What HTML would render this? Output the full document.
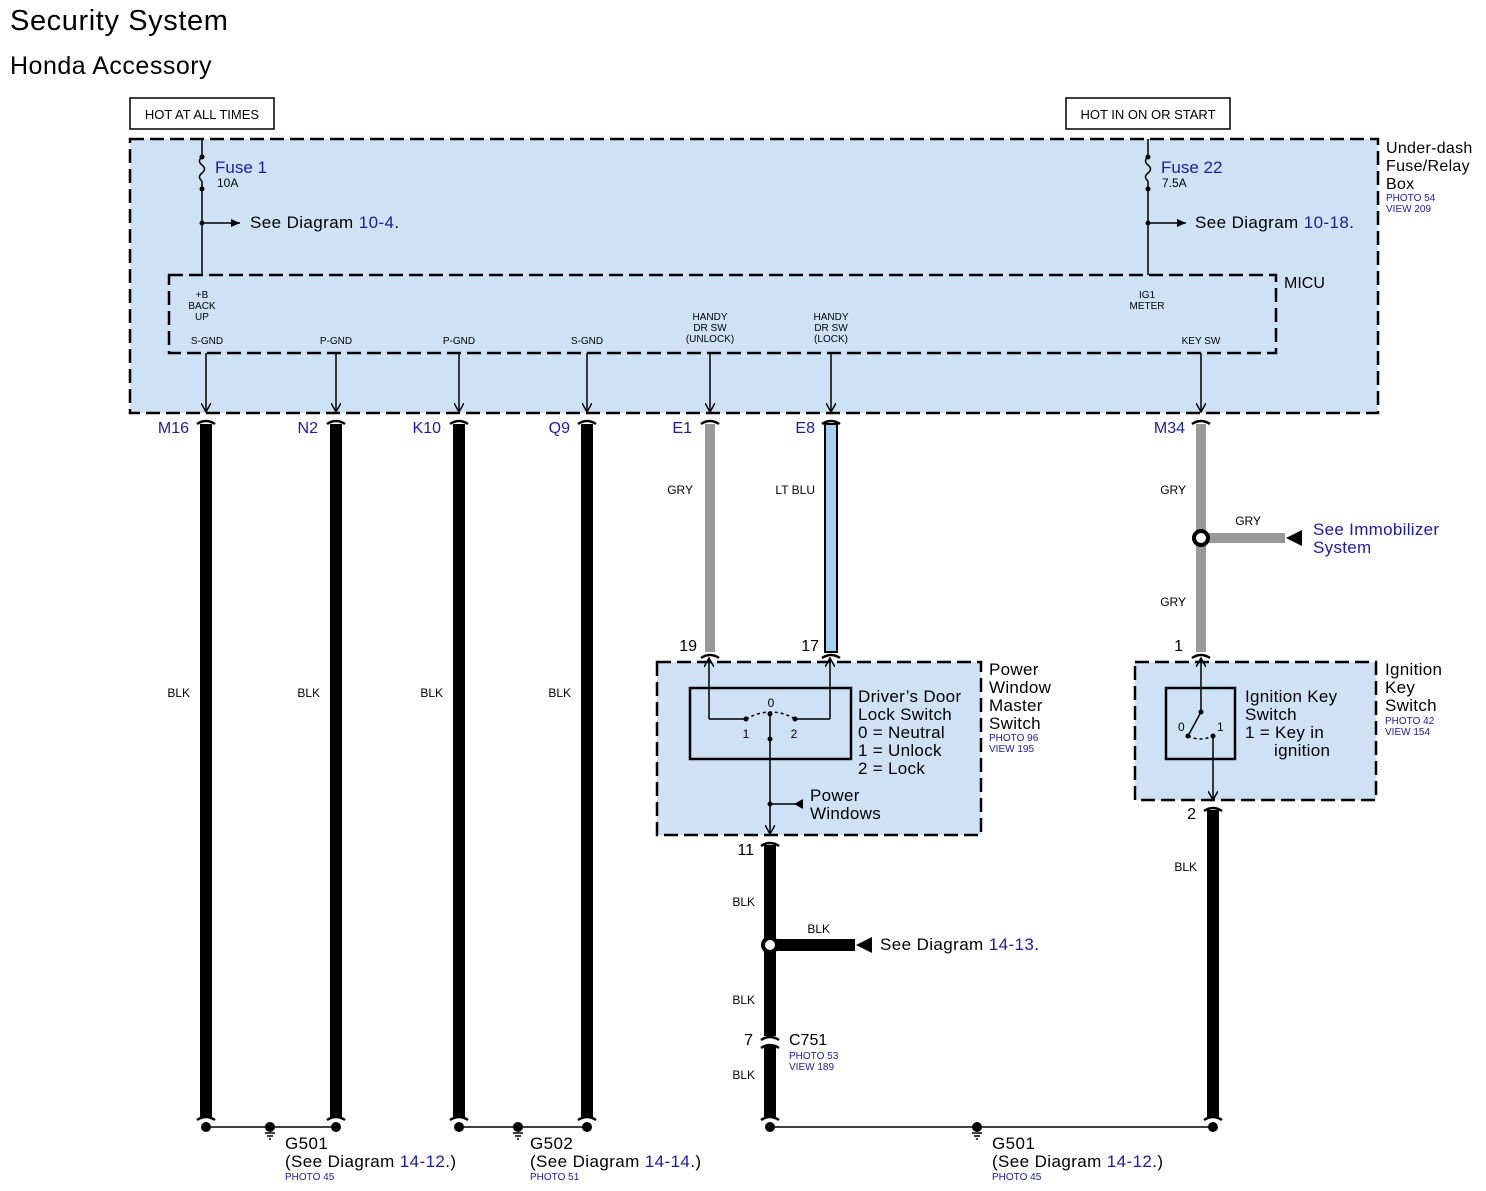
<!DOCTYPE html>
<html><head><meta charset="utf-8"><style>
body{margin:0;background:#fff}
svg{display:block;font-family:"Liberation Sans",Arial,sans-serif}
.b{fill:#1a1aa8}
</style></head><body>
<svg width="1486" height="1191" viewBox="0 0 1486 1191" xmlns="http://www.w3.org/2000/svg">
<defs>
<marker id="ar" markerWidth="10" markerHeight="10" refX="9" refY="5" orient="auto" markerUnits="userSpaceOnUse"><path d="M0,0 L9,5 L0,10" fill="none" stroke="#000" stroke-width="1.5"/></marker>
<marker id="tri" markerWidth="10" markerHeight="10" refX="9" refY="5" orient="auto" markerUnits="userSpaceOnUse"><path d="M0,1 L9,5 L0,9z" fill="#000"/></marker>
</defs>
<text x="10" y="30" font-size="29" letter-spacing="0.6">Security System</text>
<text x="10" y="74" font-size="25" letter-spacing="0.5">Honda Accessory</text>
<rect x="130" y="98" width="144" height="31" fill="#fff" stroke="#000" stroke-width="1.5"/>
<text x="202" y="119" font-size="13" text-anchor="middle">HOT AT ALL TIMES</text>
<rect x="1066" y="98" width="164" height="31" fill="#fff" stroke="#000" stroke-width="1.5"/>
<text x="1148" y="119" font-size="13" text-anchor="middle">HOT IN ON OR START</text>
<rect x="130" y="139" width="1248" height="274" fill="#cfe2f5" stroke="#000" stroke-width="2.5" stroke-dasharray="14,6"/>
<rect x="169" y="275" width="1107" height="78" fill="#cfe2f5" stroke="#000" stroke-width="2.5" stroke-dasharray="14,6"/>
<g font-size="16" letter-spacing="0.3"><text x="1386" y="153">Under-dash</text><text x="1386" y="171">Fuse/Relay</text><text x="1386" y="189">Box</text></g>
<text x="1386" y="201" font-size="10" class="b">PHOTO 54</text><text x="1386" y="212" font-size="10" class="b">VIEW 209</text>
<text x="1284" y="288" font-size="16">MICU</text>
<g stroke="#000" stroke-width="1.5" fill="none">
<line x1="202" y1="139" x2="202" y2="157"/><path d="M202,157 q-5,4 0,8 q5,4 0,8 q-5,4 0,8"/><line x1="202" y1="181" x2="202" y2="275"/>
<line x1="202" y1="223" x2="240" y2="223" marker-end="url(#tri)"/>
<line x1="1148" y1="139" x2="1148" y2="157"/><path d="M1148,157 q-5,4 0,8 q5,4 0,8 q-5,4 0,8"/><line x1="1148" y1="181" x2="1148" y2="275"/>
<line x1="1148" y1="223" x2="1186" y2="223" marker-end="url(#tri)"/>
</g>
<g fill="#000"><circle cx="202" cy="157" r="2.5"/><circle cx="202" cy="189" r="2.5"/><circle cx="202" cy="223" r="2.5"/><circle cx="1148" cy="157" r="2.5"/><circle cx="1148" cy="189" r="2.5"/><circle cx="1148" cy="223" r="2.5"/></g>
<text x="215" y="173" font-size="17" class="b">Fuse 1</text><text x="217" y="187" font-size="12">10A</text>
<text x="250" y="228" font-size="17" letter-spacing="0.4">See Diagram <tspan class="b">10-4</tspan>.</text>
<text x="1161" y="173" font-size="17" class="b">Fuse 22</text><text x="1162" y="187" font-size="12">7.5A</text>
<text x="1195" y="228" font-size="17" letter-spacing="0.4">See Diagram <tspan class="b">10-18</tspan>.</text>
<g font-size="10" text-anchor="middle">
<text x="202" y="298">+B</text><text x="202" y="309">BACK</text><text x="202" y="320">UP</text>
<text x="207" y="344">S-GND</text><text x="336" y="344">P-GND</text><text x="459" y="344">P-GND</text><text x="587" y="344">S-GND</text>
<text x="710" y="320">HANDY</text><text x="710" y="331">DR SW</text><text x="710" y="342">(UNLOCK)</text>
<text x="831" y="320">HANDY</text><text x="831" y="331">DR SW</text><text x="831" y="342">(LOCK)</text>
<text x="1147" y="298">IG1</text><text x="1147" y="309">METER</text><text x="1201" y="344">KEY SW</text>
</g>
<g stroke="#000" stroke-width="1.5" marker-end="url(#ar)">
<line x1="206" y1="353" x2="206" y2="412"/><line x1="336" y1="353" x2="336" y2="412"/><line x1="459" y1="353" x2="459" y2="412"/><line x1="587" y1="353" x2="587" y2="412"/><line x1="710" y1="353" x2="710" y2="412"/><line x1="831" y1="353" x2="831" y2="412"/><line x1="1201" y1="353" x2="1201" y2="412"/>
</g>
<g stroke="#000" stroke-width="12">
<line x1="206" y1="424" x2="206" y2="1118"/><line x1="336" y1="424" x2="336" y2="1118"/><line x1="459" y1="424" x2="459" y2="1118"/><line x1="587" y1="424" x2="587" y2="1118"/>
<line x1="770" y1="845" x2="770" y2="1036"/><line x1="770" y1="1046" x2="770" y2="1118"/><line x1="1213" y1="810" x2="1213" y2="1118"/>
<line x1="770" y1="945" x2="855" y2="945"/>
</g>
<g stroke="#999" stroke-width="10"><line x1="710" y1="424" x2="710" y2="652"/><line x1="1201" y1="424" x2="1201" y2="652"/><line x1="1201" y1="538" x2="1285" y2="538"/></g>
<rect x="825" y="424" width="12" height="228" fill="#a8cff5" stroke="#000" stroke-width="2"/>
<g fill="none" stroke="#000" stroke-width="2.5">
<path d="M197,424 q9,-6 18,0"/><path d="M327,424 q9,-6 18,0"/><path d="M450,424 q9,-6 18,0"/><path d="M578,424 q9,-6 18,0"/><path d="M701,424 q9,-6 18,0"/><path d="M822,424 q9,-6 18,0"/><path d="M1192,424 q9,-6 18,0"/>
<path d="M701,658 q9,-6 18,0"/><path d="M822,658 q9,-6 18,0"/><path d="M1192,658 q9,-6 18,0"/>
<path d="M761,846 q9,-6 18,0"/><path d="M1204,811 q9,-6 18,0"/>
<path d="M761,1040 q9,-6 18,0"/><path d="M761,1048 q9,-6 18,0"/>
<path d="M197,1120 q9,-6 18,0"/><path d="M327,1120 q9,-6 18,0"/><path d="M450,1120 q9,-6 18,0"/><path d="M578,1120 q9,-6 18,0"/><path d="M761,1120 q9,-6 18,0"/><path d="M1204,1120 q9,-6 18,0"/>
</g>
<g font-size="16" class="b" text-anchor="end">
<text x="189" y="433">M16</text><text x="318" y="433">N2</text><text x="441" y="433">K10</text><text x="570" y="433">Q9</text><text x="692" y="433">E1</text><text x="815" y="433">E8</text><text x="1185" y="433">M34</text>
</g>
<g font-size="12" text-anchor="end">
<text x="693" y="494">GRY</text><text x="815" y="494">LT BLU</text><text x="1186" y="494">GRY</text><text x="1186" y="606">GRY</text><text x="1261" y="525">GRY</text>
<text x="190" y="697">BLK</text><text x="320" y="697">BLK</text><text x="443" y="697">BLK</text><text x="571" y="697">BLK</text>
<text x="755" y="906">BLK</text><text x="755" y="1004">BLK</text><text x="755" y="1079">BLK</text><text x="1197" y="871">BLK</text><text x="830" y="933">BLK</text>
</g>
<circle cx="1201" cy="538" r="7" fill="#fff" stroke="#000" stroke-width="4"/>
<path d="M1302,530 L1286,538 L1302,546z" fill="#000"/>
<text x="1313" y="535" font-size="17" class="b" letter-spacing="0.3">See Immobilizer</text><text x="1313" y="553" font-size="17" class="b" letter-spacing="0.3">System</text>
<circle cx="770" cy="945" r="7" fill="#fff" stroke="#000" stroke-width="4"/>
<path d="M872,937 L856,945 L872,953z" fill="#000"/>
<text x="880" y="950" font-size="17" letter-spacing="0.4">See Diagram <tspan class="b">14-13</tspan>.</text>
<g font-size="16"><text x="697" y="651" text-anchor="end">19</text><text x="819" y="651" text-anchor="end">17</text><text x="1183" y="651" text-anchor="end">1</text><text x="754" y="855" text-anchor="end">11</text><text x="1196" y="819" text-anchor="end">2</text><text x="753" y="1045" text-anchor="end">7</text></g>
<rect x="657" y="662" width="324" height="173" fill="#cfe2f5" stroke="#000" stroke-width="2.5" stroke-dasharray="14,6"/>
<rect x="690" y="688" width="161" height="71" fill="none" stroke="#000" stroke-width="2.5"/>
<g stroke="#000" stroke-width="1.5" fill="none">
<line x1="709" y1="719" x2="709" y2="658" marker-end="url(#ar)"/><line x1="709" y1="719" x2="746" y2="719"/>
<line x1="830" y1="719" x2="830" y2="658" marker-end="url(#ar)"/><line x1="830" y1="719" x2="795" y2="719"/>
<path d="M746,719 q25,-14 49,0" stroke-dasharray="3,3"/>
<line x1="770" y1="714" x2="770" y2="834" marker-end="url(#ar)"/>
<line x1="770" y1="804" x2="796" y2="804"/>
</g>
<path d="M803,799 L794,804 L803,809z" fill="#000"/>
<g fill="#000"><circle cx="746" cy="719" r="2.5"/><circle cx="795" cy="719" r="2.5"/><circle cx="770" cy="714" r="2.5"/><circle cx="770" cy="739" r="2.5"/><circle cx="770" cy="804" r="2.5"/></g>
<g font-size="12" text-anchor="middle"><text x="771" y="707">0</text><text x="746" y="738">1</text><text x="794" y="738">2</text></g>
<g font-size="17" letter-spacing="0.3"><text x="858" y="702">Driver’s Door</text><text x="858" y="720">Lock Switch</text><text x="858" y="738">0 = Neutral</text><text x="858" y="756">1 = Unlock</text><text x="858" y="774">2 = Lock</text>
<text x="810" y="801">Power</text><text x="810" y="819">Windows</text>
<text x="989" y="675">Power</text><text x="989" y="693">Window</text><text x="989" y="711">Master</text><text x="989" y="729">Switch</text></g>
<text x="989" y="741" font-size="10" class="b">PHOTO 96</text><text x="989" y="752" font-size="10" class="b">VIEW 195</text>
<rect x="1135" y="662" width="241" height="138" fill="#cfe2f5" stroke="#000" stroke-width="2.5" stroke-dasharray="14,6"/>
<rect x="1166" y="688" width="69" height="71" fill="none" stroke="#000" stroke-width="2.5"/>
<g stroke="#000" stroke-width="1.5" fill="none">
<line x1="1201" y1="712" x2="1201" y2="658" marker-end="url(#ar)"/><line x1="1201" y1="712" x2="1188" y2="736"/>
<path d="M1188,736 q12,6 25,0" stroke-dasharray="3,3"/>
<line x1="1213" y1="736" x2="1213" y2="800" marker-end="url(#ar)"/>
</g>
<g fill="#000"><circle cx="1201" cy="712" r="2.5"/><circle cx="1188" cy="736" r="2.5"/><circle cx="1213" cy="736" r="2.5"/></g>
<g font-size="12"><text x="1178" y="731">0</text><text x="1217" y="731">1</text></g>
<g font-size="17" letter-spacing="0.3"><text x="1245" y="702">Ignition Key</text><text x="1245" y="720">Switch</text><text x="1245" y="738">1 = Key in</text><text x="1274" y="756">ignition</text>
<text x="1385" y="675">Ignition</text><text x="1385" y="693">Key</text><text x="1385" y="711">Switch</text></g>
<text x="1385" y="724" font-size="10" class="b">PHOTO 42</text><text x="1385" y="735" font-size="10" class="b">VIEW 154</text>
<text x="789" y="1045" font-size="16">C751</text>
<text x="789" y="1059" font-size="10" class="b">PHOTO 53</text><text x="789" y="1070" font-size="10" class="b">VIEW 189</text>
<g stroke="#000" stroke-width="1.5"><line x1="206" y1="1127" x2="336" y2="1127"/><line x1="459" y1="1127" x2="587" y2="1127"/><line x1="770" y1="1127" x2="1213" y2="1127"/>
<line x1="265" y1="1133" x2="275" y2="1133"/><line x1="267" y1="1136" x2="273" y2="1136"/><line x1="269" y1="1139" x2="271" y2="1139"/>
<line x1="513" y1="1133" x2="523" y2="1133"/><line x1="515" y1="1136" x2="521" y2="1136"/><line x1="517" y1="1139" x2="519" y2="1139"/>
<line x1="972" y1="1133" x2="982" y2="1133"/><line x1="974" y1="1136" x2="980" y2="1136"/><line x1="976" y1="1139" x2="978" y2="1139"/></g>
<g fill="#000"><circle cx="206" cy="1127" r="5"/><circle cx="336" cy="1127" r="5"/><circle cx="270" cy="1127" r="5"/><circle cx="459" cy="1127" r="5"/><circle cx="587" cy="1127" r="5"/><circle cx="518" cy="1127" r="5"/><circle cx="770" cy="1127" r="5"/><circle cx="1213" cy="1127" r="5"/><circle cx="977" cy="1127" r="5"/></g>
<g font-size="17" letter-spacing="0.4">
<text x="285" y="1149">G501</text><text x="285" y="1167">(See Diagram <tspan class="b">14-12</tspan>.)</text>
<text x="530" y="1149">G502</text><text x="530" y="1167">(See Diagram <tspan class="b">14-14</tspan>.)</text>
<text x="992" y="1149">G501</text><text x="992" y="1167">(See Diagram <tspan class="b">14-12</tspan>.)</text>
</g>
<g font-size="10" class="b"><text x="285" y="1180">PHOTO 45</text><text x="530" y="1180">PHOTO 51</text><text x="992" y="1180">PHOTO 45</text></g>
</svg>
</body></html>
